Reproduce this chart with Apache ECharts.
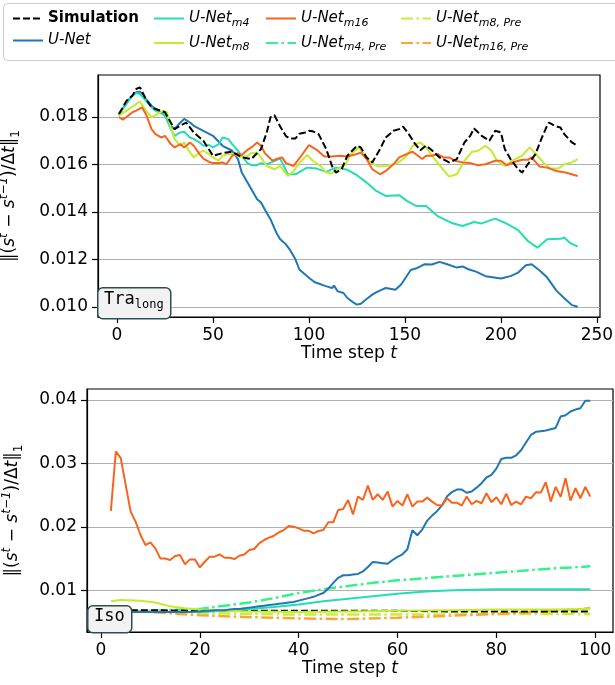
<!DOCTYPE html>
<html>
<head>
<meta charset="utf-8">
<script src="https://cdn.jsdelivr.net/npm/echarts@6/dist/echarts.min.js"></script>
<style>html,body{margin:0;padding:0;background:#fff}#chart{width:615px;height:685px}</style>
</head>
<body>
<div id="chart"></div>
<script>
// ---------- top panel (Tra_long), [t, value] ----------
const traSim = [[1,0.01813],[5,0.01869],[8,0.0189],[10,0.01918],[12,0.01925],[15,0.01876],[18,0.01841],[20,0.01834],[25,0.0182],[28,0.01777],[30,0.01749],[33,0.01763],[36,0.01777],[40,0.01735],[45,0.017],[50,0.01637],[55,0.01648],[60,0.01654],[65,0.0163],[70,0.01623],[75,0.01665],[78,0.01735],[80,0.018],[82,0.01808],[85,0.0176],[88,0.0172],[90,0.0171],[93,0.0171],[95,0.0173],[98,0.01735],[100,0.01742],[102,0.0174],[105,0.01728],[109,0.01665],[112,0.01594],[114,0.01566],[117,0.0158],[120,0.01637],[125,0.01679],[127,0.01672],[130,0.0163],[133,0.01609],[137,0.01665],[140,0.01714],[144,0.01742],[147,0.01749],[149,0.0176],[152,0.01728],[155,0.0169],[158,0.0166],[161,0.0168],[164,0.0166],[168,0.0163],[173,0.01609],[177,0.01623],[181,0.01693],[184,0.01721],[186,0.01752],[190,0.01721],[194,0.017],[197,0.01742],[200,0.01735],[202,0.01665],[205,0.01623],[209,0.0158],[211,0.01566],[214,0.01601],[218,0.01644],[221,0.01707],[224,0.01763],[225,0.01777],[228,0.01763],[231,0.01756],[233,0.01728],[237,0.01693],[240,0.01679]];
const traUNet = [[1,0.01808],[5,0.01862],[8,0.0189],[10,0.01904],[12,0.01907],[15,0.01876],[18,0.01848],[20,0.01834],[23,0.0182],[25,0.01806],[28,0.01763],[30,0.01749],[33,0.01777],[35,0.01792],[38,0.01777],[40,0.01763],[45,0.01742],[50,0.01721],[55,0.01679],[60,0.01658],[63,0.01623],[65,0.01566],[70,0.01496],[73,0.01454],[75,0.0144],[77,0.01411],[80,0.01369],[83,0.01313],[85,0.01285],[88,0.01264],[90,0.01242],[93,0.012],[95,0.01158],[98,0.01137],[100,0.01123],[103,0.01104],[105,0.01099],[108,0.0109],[110,0.01085],[112,0.0108],[113,0.0109],[115,0.01066],[118,0.01059],[120,0.01038],[123,0.0102],[125,0.0101],[127,0.01014],[130,0.01034],[133,0.01052],[135,0.01062],[138,0.01073],[140,0.0108],[143,0.01076],[145,0.01073],[148,0.01095],[150,0.01119],[153,0.01156],[156,0.01163],[160,0.0118],[164,0.01179],[168,0.0119],[172,0.0118],[177,0.01166],[180,0.01171],[183,0.01159],[187,0.01149],[192,0.0113],[200,0.0112],[205,0.0113],[209,0.01145],[213,0.01176],[216,0.0118],[220,0.01155],[224,0.01125],[229,0.01068],[234,0.0103],[237,0.01008],[240,0.01001]];
const traM4 = [[1,0.01813],[5,0.01855],[8,0.0189],[10,0.01901],[12,0.01897],[15,0.01869],[18,0.01841],[20,0.01827],[25,0.01808],[28,0.01749],[30,0.01721],[33,0.01735],[35,0.01738],[38,0.01714],[40,0.01707],[43,0.01693],[45,0.01679],[48,0.01682],[50,0.01672],[53,0.01686],[55,0.01714],[58,0.01707],[60,0.01686],[63,0.01658],[65,0.01637],[68,0.01606],[70,0.01597],[73,0.01597],[75,0.01606],[78,0.01601],[81,0.01611],[85,0.01625],[89,0.01559],[93,0.01559],[99,0.01587],[104,0.01583],[109,0.01569],[114,0.01587],[120,0.01578],[125,0.01555],[130,0.01524],[135,0.01489],[140,0.01468],[147,0.01471],[151,0.01447],[156,0.01425],[161,0.01425],[167,0.01383],[174,0.01355],[180,0.01341],[186,0.01358],[190,0.01352],[197,0.01372],[202,0.01355],[209,0.01324],[214,0.01278],[219,0.0125],[224,0.01285],[231,0.01287],[233,0.01293],[236,0.0127],[240,0.01254]];
const traM8 = [[1,0.01806],[5,0.01827],[10,0.01855],[12,0.01865],[15,0.01827],[18,0.01799],[20,0.01808],[24,0.01827],[26,0.0182],[28,0.01756],[30,0.01707],[33,0.01679],[35,0.01693],[38,0.01651],[40,0.0163],[43,0.01651],[45,0.01658],[48,0.01644],[50,0.0163],[53,0.01616],[55,0.01637],[58,0.01644],[60,0.01644],[63,0.01637],[65,0.0163],[68,0.01637],[70,0.01648],[73,0.01651],[75,0.0163],[78,0.01594],[82,0.0158],[85,0.01594],[89,0.01552],[92,0.01573],[95,0.01606],[99,0.0164],[102,0.01616],[106,0.01594],[109,0.01566],[112,0.01563],[114,0.01576],[119,0.01601],[122,0.01644],[126,0.01672],[128,0.01651],[132,0.01609],[136,0.01592],[140,0.01594],[144,0.01601],[147,0.01611],[151,0.01637],[154,0.01679],[158,0.01693],[161,0.01672],[164,0.01637],[169,0.01587],[173,0.01549],[177,0.01559],[181,0.01616],[185,0.01654],[188,0.01658],[192,0.01679],[195,0.01658],[198,0.01616],[202,0.01594],[206,0.01616],[211,0.01637],[215,0.01672],[219,0.01637],[223,0.01601],[226,0.01583],[230,0.01583],[233,0.01601],[237,0.01609],[240,0.01623]];
const traM16 = [[1,0.018],[3,0.01789],[5,0.018],[8,0.0182],[10,0.01827],[13,0.01841],[15,0.01813],[18,0.01749],[20,0.01728],[23,0.01714],[25,0.01721],[28,0.01686],[30,0.01672],[33,0.01686],[35,0.01672],[38,0.01693],[40,0.01679],[43,0.01644],[45,0.01625],[48,0.01611],[50,0.01606],[53,0.01606],[55,0.01609],[57,0.01601],[60,0.01637],[63,0.01648],[65,0.0164],[68,0.01662],[70,0.01672],[73,0.01693],[75,0.01679],[77,0.01648],[81,0.01616],[83,0.01623],[86,0.0163],[88,0.01606],[92,0.01594],[96,0.01637],[100,0.01682],[104,0.01662],[108,0.01634],[112,0.01634],[116,0.01637],[120,0.01634],[125,0.01644],[127,0.01651],[130,0.01623],[133,0.0158],[137,0.01559],[140,0.01573],[144,0.01601],[147,0.0163],[152,0.01648],[154,0.01654],[159,0.01623],[161,0.01637],[164,0.01637],[167,0.01644],[170,0.0163],[173,0.0163],[176,0.01616],[180,0.01609],[184,0.01606],[188,0.01597],[192,0.01601],[197,0.01616],[200,0.01616],[203,0.01597],[207,0.01611],[211,0.0162],[214,0.0162],[216,0.0163],[220,0.01592],[224,0.01587],[229,0.01573],[232,0.01569],[235,0.01563],[240,0.01552]];

// ---------- bottom panel (Iso) ----------
const isoT = [];
for (let t = 2; t <= 99; t++) isoT.push(t);
const isoM16Vals = [0.02253,0.0319,0.03084,0.02663,0.02242,0.02084,0.01874,0.01716,0.01758,0.01663,0.01505,0.01505,0.01479,0.01542,0.01558,0.01411,0.0149,0.0149,0.01363,0.01453,0.01532,0.01532,0.01568,0.01516,0.01516,0.01495,0.01547,0.01568,0.01637,0.01653,0.01742,0.01795,0.01832,0.01863,0.01916,0.01953,0.02016,0.02005,0.01979,0.01942,0.01942,0.019,0.01937,0.01953,0.02074,0.02074,0.02268,0.02284,0.02426,0.022,0.02479,0.02426,0.02653,0.02426,0.02516,0.02426,0.02558,0.02321,0.02411,0.02337,0.02516,0.02321,0.024,0.024,0.02463,0.024,0.02347,0.02337,0.02453,0.02384,0.02384,0.02337,0.02479,0.02358,0.02411,0.02374,0.02532,0.02389,0.02468,0.02358,0.02526,0.02347,0.024,0.02358,0.02479,0.02453,0.02547,0.02542,0.02705,0.024,0.02632,0.02474,0.02768,0.02416,0.02611,0.02453,0.02632,0.02479];
const isoUNetVals = [0.0066,0.0066,0.0066,0.0066,0.0066,0.0066,0.0066,0.0066,0.0066,0.0066,0.0066,0.0066,0.0066,0.0066,0.0066,0.0066,0.0066,0.0067,0.0067,0.0068,0.0068,0.0069,0.0069,0.0069,0.007,0.0071,0.0071,0.0072,0.0073,0.0074,0.0075,0.0076,0.0077,0.0078,0.0079,0.008,0.0081,0.0082,0.0084,0.0086,0.0088,0.009,0.0093,0.0096,0.0103,0.0112,0.012,0.0124,0.0124,0.0125,0.0126,0.013,0.0137,0.0145,0.0144,0.0143,0.0142,0.0148,0.0153,0.0157,0.0165,0.0195,0.0187,0.0196,0.021,0.0218,0.0225,0.0234,0.0248,0.0255,0.0259,0.0259,0.0254,0.0256,0.0262,0.0269,0.0278,0.0282,0.0292,0.0307,0.0309,0.0309,0.0313,0.0321,0.0333,0.0345,0.035,0.0351,0.0352,0.0354,0.0356,0.0374,0.0376,0.0382,0.0385,0.0387,0.0399,0.0399];
const isoSim = [[2,0.0069],[10,0.0069],[20,0.0068],[30,0.0068],[40,0.0068],[50,0.0068],[60,0.0068],[70,0.0067],[80,0.0067],[90,0.0067],[99,0.0067]];
const isoM4 = [[2,0.0066],[10,0.0066],[20,0.0066],[25,0.0068],[30,0.0071],[35,0.0074],[40,0.0078],[45,0.0083],[50,0.0087],[55,0.0091],[60,0.0095],[65,0.0098],[70,0.01],[75,0.0101],[80,0.0102],[90,0.0102],[99,0.0102]];
const isoM8 = [[2,0.0083],[4,0.0085],[8,0.0084],[11,0.0081],[14,0.0075],[17,0.0072],[20,0.007],[25,0.0068],[30,0.0067],[40,0.0066],[50,0.0067],[60,0.0068],[70,0.0069],[80,0.007],[90,0.007],[99,0.0071]];
const isoM4Pre = [[2,0.0066],[10,0.0068],[20,0.0071],[25,0.0076],[30,0.0081],[35,0.0088],[40,0.0096],[45,0.0102],[50,0.0107],[55,0.0112],[60,0.0116],[70,0.0122],[80,0.0128],[90,0.0134],[99,0.0138]];
const isoM8Pre = [[2,0.0069],[10,0.0067],[20,0.0065],[30,0.0063],[40,0.0062],[50,0.0062],[60,0.0062],[70,0.0062],[80,0.0063],[90,0.0063],[99,0.0063]];
const isoM16Pre = [[2,0.0069],[10,0.0066],[20,0.0061],[30,0.0058],[40,0.0056],[50,0.0055],[60,0.0057],[70,0.006],[80,0.0063],[90,0.0067],[99,0.0072]];

const topXTicks = [0, 50, 100, 150, 200, 250];
const topYTicks = [0.010, 0.012, 0.014, 0.016, 0.018];
const botXTicks = [0, 20, 40, 60, 80, 100];
const botYTicks = [0.01, 0.02, 0.03, 0.04];

const colors = {
  'Simulation': '#000000',
  'U-Net': '#1f77b4',
  'U-Net_m4': '#26dcb4',
  'U-Net_m8': '#c3ec2e',
  'U-Net_m16': '#f8641e',
  'U-Net_m4,Pre': '#36f08e',
  'U-Net_m8,Pre': '#c6f03c',
  'U-Net_m16,Pre': '#fca63a'
};

const chart = echarts.init(document.getElementById('chart'));
const FONT = 'DejaVu Sans';
const zip = (ts, vs) => ts.map((t, i) => [t, vs[i]]);

function line(name, data, idx, style) {
  return {
    name: name,
    type: 'line',
    xAxisIndex: idx,
    yAxisIndex: idx,
    data: data,
    symbol: 'none',
    silent: true,
    z: style.z || 2,
    itemStyle: { color: colors[name] },
    lineStyle: { color: colors[name], width: style.width || 2, type: style.type || 'solid' }
  };
}
const DASH = [7, 3];
const DASHDOT = [12, 3.5, 2.5, 3.5];
const axisLine = { show: true, onZero: false, lineStyle: { color: '#000', width: 1.2 } };

function xAxis(grid, min, max, ticks, gap) {
  return {
    type: 'value', gridIndex: grid, min: min, max: max, position: 'bottom',
    name: 'Time step {i|t}', nameLocation: 'middle', nameGap: gap,
    nameTextStyle: { fontFamily: FONT, fontSize: 17, color: '#000',
      rich: { i: { fontFamily: FONT, fontSize: 17, fontStyle: 'italic', color: '#000' } } },
    axisLine: axisLine,
    axisTick: { show: true, inside: false, length: 6, lineStyle: { color: '#000', width: 1.2 }, customValues: ticks },
    axisLabel: { fontFamily: FONT, fontSize: 17, color: '#000', margin: 10, customValues: ticks },
    splitLine: { show: false }
  };
}
function yAxis(grid, min, max, ticks, digits, gap) {
  return {
    type: 'value', gridIndex: grid, min: min, max: max, position: 'left',
    name: '‖({i|s}{sup|t} − {i|s}{sup|t−1})/Δ{i|t}‖{sub|1}',
    nameLocation: 'middle', nameGap: gap, nameRotate: 90,
    nameTextStyle: { fontFamily: FONT, fontSize: 17, color: '#000', lineHeight: 24,
      rich: {
        i: { fontFamily: FONT, fontSize: 17, fontStyle: 'italic', color: '#000', lineHeight: 24 },
        sup: { fontFamily: FONT, fontSize: 12, fontStyle: 'italic', color: '#000', lineHeight: 13, verticalAlign: 'top' },
        sub: { fontFamily: FONT, fontSize: 12, color: '#000', lineHeight: 13, verticalAlign: 'bottom' }
      } },
    axisLine: axisLine,
    axisTick: { show: true, inside: false, length: 6, lineStyle: { color: '#000', width: 1.2 }, customValues: ticks },
    axisLabel: { fontFamily: FONT, fontSize: 17, color: '#000', margin: 10, customValues: ticks,
      formatter: v => v.toFixed(digits) },
    splitLine: { show: true, lineStyle: { color: '#b0b0b0', width: 1.2 } }
  };
}

function legendFmt(name) {
  if (name === 'Simulation') return '{b|Simulation}';
  const parts = name.split('_');
  return '{i|' + parts[0] + '}' + (parts[1] ? '{s|' + parts[1].replace(',', ', ') + '}' : '');
}
const legendText = {
  fontFamily: FONT, fontSize: 15, color: '#000',
  rich: {
    b: { fontFamily: FONT, fontSize: 15, fontWeight: 'bold', color: '#000', lineHeight: 20 },
    i: { fontFamily: FONT, fontSize: 15, fontStyle: 'italic', color: '#000', lineHeight: 20 },
    s: { fontFamily: FONT, fontSize: 11, fontStyle: 'italic', color: '#000', lineHeight: 14, verticalAlign: 'bottom' }
  }
};
function legend(left, names) {
  return {
    left: left, top: 6, orient: 'vertical', itemGap: 7,
    itemWidth: 30, itemHeight: 14, selectedMode: false,
    itemStyle: { opacity: 0 },
    data: names, formatter: legendFmt, textStyle: legendText
  };
}

chart.setOption({
  animation: false,
  backgroundColor: '#fff',
  grid: [
    { left: 98, top: 75, width: 502, height: 242, outerBoundsMode: 'none', containLabel: false,
      show: true, borderColor: '#000', borderWidth: 1.2, backgroundColor: 'transparent' },
    { left: 87, top: 389, width: 526, height: 243, outerBoundsMode: 'none', containLabel: false,
      show: true, borderColor: '#000', borderWidth: 1.2, backgroundColor: 'transparent' }
  ],
  legend: [
    legend(7, ['Simulation', 'U-Net']),
    legend(148, ['U-Net_m4', 'U-Net_m8']),
    legend(260, ['U-Net_m16', 'U-Net_m4,Pre']),
    legend(395, ['U-Net_m8,Pre', 'U-Net_m16,Pre'])
  ],
  xAxis: [
    xAxis(0, -9.9, 251.6, topXTicks, 28),
    xAxis(1, -2.83, 103.6, botXTicks, 27)
  ],
  yAxis: [
    yAxis(0, 0.00958, 0.01977, topYTicks, 3, 76),
    yAxis(1, 0.00346, 0.04174, botYTicks, 2, 62)
  ],
  graphic: [
    { type: 'rect', left: 3, top: 3, z: -1, silent: true,
      shape: { width: 640, height: 57, r: 4 },
      style: { fill: '#fff', stroke: '#cccccc', lineWidth: 1 } },
    { type: 'rect', left: 97, top: 287, z: 100, silent: true,
      shape: { width: 73, height: 31, r: 5 },
      style: { fill: '#f2f2f2', stroke: '#2f4f4f', lineWidth: 1.5 } },
    { type: 'text', left: 104, top: 291, z: 101, silent: true,
      style: { text: '{a|Tra}{b|long}', fill: '#000',
        rich: { a: { fontFamily: 'DejaVu Sans Mono', fontSize: 17, lineHeight: 22 },
                b: { fontFamily: 'DejaVu Sans Mono', fontSize: 12, lineHeight: 14, verticalAlign: 'bottom' } } } },
    { type: 'rect', left: 87, top: 605, z: 100, silent: true,
      shape: { width: 44, height: 27, r: 5 },
      style: { fill: '#f2f2f2', stroke: '#2f4f4f', lineWidth: 1.5 } },
    { type: 'text', left: 94, top: 608, z: 101, silent: true,
      style: { text: 'Iso', fill: '#000', font: '17px "DejaVu Sans Mono"' } }
  ],
  series: [
    line('U-Net', traUNet, 0, {}),
    line('U-Net_m4', traM4, 0, {}),
    line('U-Net_m8', traM8, 0, {}),
    line('U-Net_m16', traM16, 0, {}),
    line('Simulation', traSim, 0, { type: DASH, z: 3 }),
    line('U-Net_m4,Pre', isoM4Pre, 1, { type: DASHDOT, width: 2.5 }),
    line('U-Net_m8,Pre', isoM8Pre, 1, { type: DASHDOT, width: 2.5 }),
    line('U-Net_m16,Pre', isoM16Pre, 1, { type: DASHDOT, width: 2.5 }),
    line('Simulation', isoSim, 1, { type: DASH }),
    line('U-Net_m4', isoM4, 1, {}),
    line('U-Net_m8', isoM8, 1, {}),
    line('U-Net', zip(isoT, isoUNetVals), 1, {}),
    line('U-Net_m16', zip(isoT, isoM16Vals), 1, {})
  ]
});
</script>
</body>
</html>
